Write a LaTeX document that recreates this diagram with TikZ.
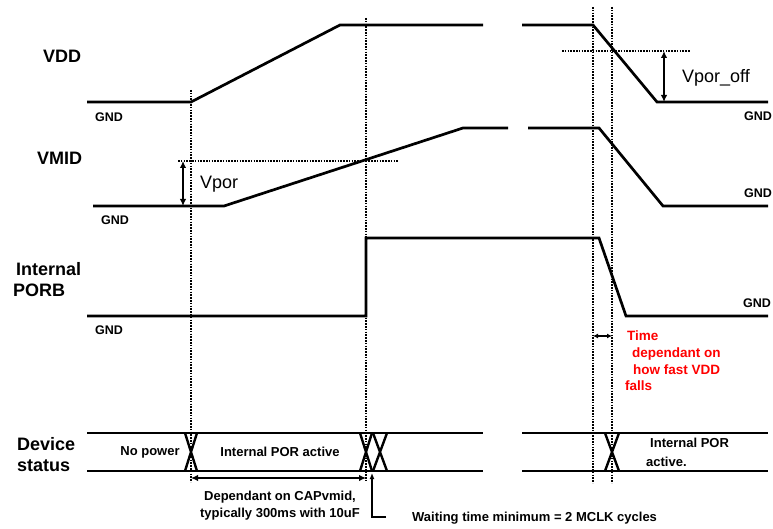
\documentclass[tikz,border=0pt]{standalone}
\usepackage{fontspec}
\setmainfont{Liberation Sans}
\usetikzlibrary{arrows.meta}
\definecolor{notered}{RGB}{255,0,0}

\begin{document}
\begin{tikzpicture}[x=1pt,y=-1pt,
    sig/.style={line width=2.7pt},
    guide/.style={dash pattern=on 1.6pt off 1.2pt,line width=2.2pt},
    dim/.style={line width=1.8pt,{Latex[length=7pt,width=6.5pt]}-{Latex[length=7pt,width=6.5pt]}},
    signame/.style={font=\fontsize{18}{21}\selectfont\bfseries,align=left,inner sep=0pt,anchor=west},
    gnd/.style={font=\fontsize{12.5}{14}\selectfont\bfseries,inner sep=0pt,anchor=west},
    note/.style={font=\fontsize{13}{17}\selectfont\bfseries,inner sep=0pt}]
    \useasboundingbox (0,0) rectangle (773,529);
    \clip (0,0) rectangle (773,529);

    % Signal names
    \node[signame] (vdd) at (43,56) {VDD};
    \node[signame] (vmid) at (37,158) {VMID};
    \node[signame] (porb) at (13,280) {\hspace*{3pt}Internal\\PORB};
    \node[signame] (dev) at (17,455) {Device\\status};

    % Time markers
    \draw[guide] (191,90) -- (191,482);
    \draw[guide] (366,18) -- (366,481);
    \draw[guide] (593,7) -- (593,483);
    \draw[guide] (612,7) -- (612,483);

    % VDD
    \draw[sig] (87,102) -- (191,102) -- (340,25) -- (483,25);
    \draw[sig] (522,25) -- (593,25) -- (657,102) -- (768,102);
    \node[gnd] (g1) at (95,117) {GND};
    \node[gnd] (g2) at (744,116) {GND};
    \draw[guide] (562,51) -- (690,51);
    \coordinate (offtop) at (664,51);
    \coordinate (offbot) at (664,102);
    \draw[dim] (offtop) -- (offbot);
    \node[font=\fontsize{18}{21}\selectfont,inner sep=0pt,anchor=west] (vporoff) at (682,78) {Vpor\_off};

    % VMID
    \draw[sig] (93,206) -- (224,206) -- (463,128) -- (508,128);
    \draw[sig] (528,128) -- (599,128) -- (663,206) -- (768,206);
    \node[gnd] (g3) at (101,220) {GND};
    \node[gnd] (g4) at (744,193) {GND};
    \draw[guide] (178,161) -- (398,161);
    \coordinate (portop) at (183,161);
    \coordinate (porbot) at (183,206);
    \draw[dim] (portop) -- (porbot);
    \node[font=\fontsize{18}{21}\selectfont,inner sep=0pt,anchor=west] (vpor) at (200,184) {Vpor};

    % Internal PORB
    \draw[sig] (87,316) -- (366,316) -- (366,238) -- (599,238) -- (626,316) -- (768,316);
    \node[gnd] (g5) at (95,330) {GND};
    \node[gnd] (g6) at (743,303) {GND};
    \coordinate (fa) at (593,336);
    \coordinate (fb) at (612,336);
    \draw[line width=1.5pt,{Latex[length=5pt,width=5pt]}-{Latex[length=5pt,width=5pt]}] (fa) -- (fb);
    \node[note,text=notered,align=left,anchor=west,font=\fontsize{13.5}{16.7}\selectfont\bfseries] (fall) at (625,361)
      {\hspace*{2pt}Time\\\hspace*{7pt}dependant on\\\hspace*{8pt}how fast VDD\\falls};

    % Device status
    \draw[sig] (87,433) -- (483,433) (87,471) -- (483,471);
    \draw[sig] (522,433) -- (768,433) (522,471) -- (768,471);
    \foreach \c/\w in {191/6,366/6,380/7,612/7}
      \draw[line width=2.4pt] (\c-\w,433) -- (\c+\w,471) (\c+\w,433) -- (\c-\w,471);
    \node[note] (nopow) at (150,452) {No power};
    \node[note] (poract) at (280,452) {Internal POR active};
    \node[note,align=left,anchor=west,font=\fontsize{13}{19}\selectfont\bfseries] (poract2) at (646,452) {\hspace*{4pt}Internal POR\\active.};

    % Timings
    \coordinate (da) at (191,478);
    \coordinate (db) at (366,478);
    \draw[dim] (da) -- (db);
    \node[note,align=center] (dep) at (280,506) {Dependant on CAPvmid,\\typically 300ms with 10uF};
    \coordinate (wa) at (386,517);
    \coordinate (wb) at (372,473);
    \draw[line width=1.3pt,-{Latex[length=6pt,width=5pt]}] (wa) -- (wa -| wb) -- (wb);
    \node[note,anchor=west] (wait) at (412,518) {Waiting time minimum = 2 MCLK cycles};
\end{tikzpicture}
\end{document}
